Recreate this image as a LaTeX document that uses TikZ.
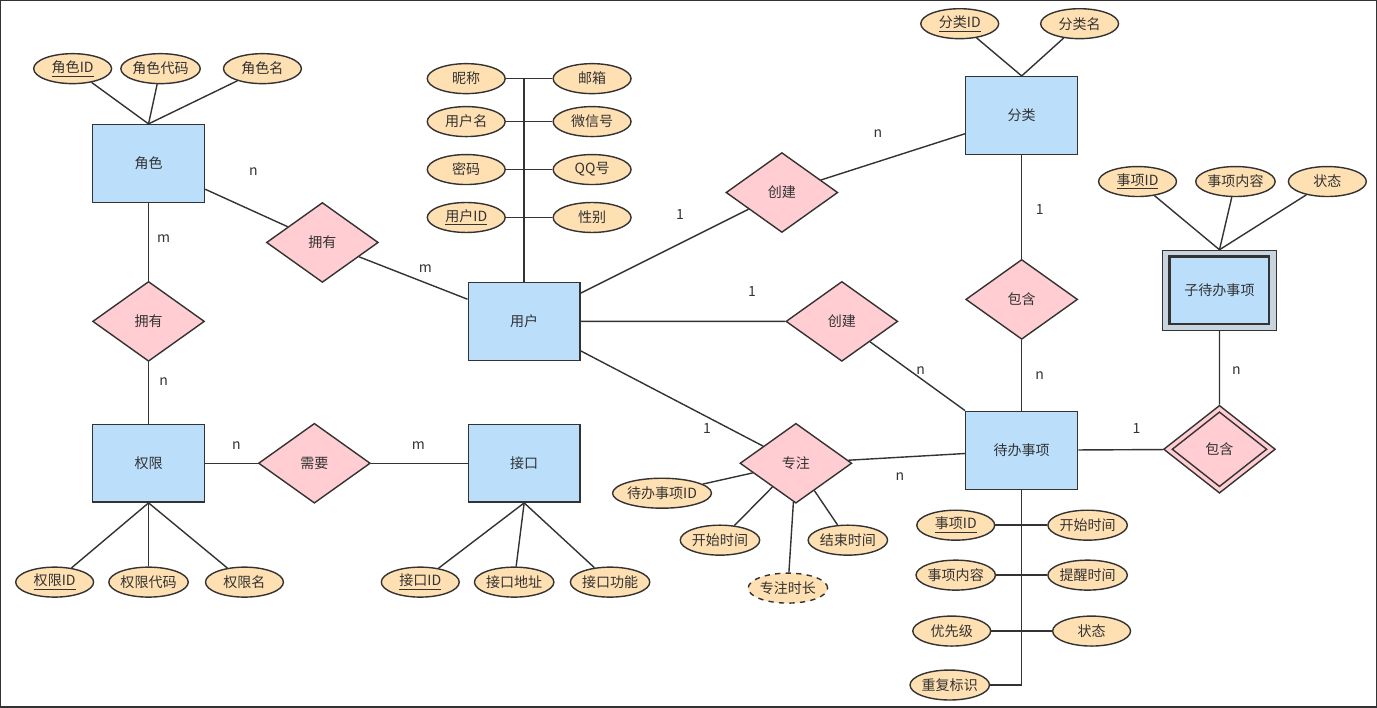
\documentclass[tikz,border=0pt]{standalone}
\usepackage{fontspec}
\setmainfont{Noto Sans CJK SC}
\usetikzlibrary{shapes.geometric}
\definecolor{ent}{HTML}{BBDEFB}
\definecolor{rel}{HTML}{FFCDD2}
\definecolor{att}{HTML}{FFE0B2}
\definecolor{ln}{HTML}{333333}
\begin{document}
\begin{tikzpicture}[x=0.02cm,y=-0.02cm,font=\fontsize{8}{9}\selectfont,text=ln,
 every path/.style={draw=ln,line width=0.8pt},
 ent/.style={draw=ln,fill=ent,minimum width=2.24cm,minimum height=1.56cm,inner sep=0pt},
 rel/.style={diamond,draw=ln,fill=rel,minimum width=2.24cm,minimum height=1.6cm,aspect=1.4,inner sep=0pt},
 att/.style={ellipse,draw=ln,fill=att,minimum width=1.56cm,minimum height=0.6cm,inner sep=0pt},
 lab/.style={draw=none,font=\fontsize{8}{9}\selectfont}]
\useasboundingbox (0,0) rectangle (1377,707);
% entities
\node[ent] (js) at (148,163) {角色};
\node[ent] (yh) at (524,321) {用户};
\node[ent] (fl) at (1022,115) {分类};
\node[ent] (qx) at (148,463) {权限};
\node[ent] (jk) at (524,463) {接口};
\node[ent] (db) at (1022,450) {待办事项};
\node[draw=ln,fill=ent!60!gray!60,minimum width=2.28cm,minimum height=1.6cm] (zo) at (1220,290) {};
\node[draw=ln,fill=ent,line width=1.2pt,minimum width=2cm,minimum height=1.36cm] (zd) at (1220,290) {子待办事项};
% relations
\node[rel] (r1) at (322,242) {拥有};
\node[rel] (r2) at (148,321) {拥有};
\node[rel] (r3) at (314,463) {需要};
\node[rel] (r4) at (782,192) {创建};
\node[rel] (r5) at (842,321) {创建};
\node[rel] (r6) at (1022,299) {包含};
\node[rel] (r7) at (796,463) {专注};
\node[rel,minimum height=1.76cm,aspect=1.27] (r8o) at (1220,449) {};
\node[rel,minimum width=1.9cm,minimum height=1.5cm,aspect=1.27] (r8) at (1220,449) {包含};
% connectors
\draw (js) -- (r1) -- (yh);
\draw (js) -- (r2) -- (qx);
\draw (qx) -- (r3) -- (jk);
\draw (yh) -- (r4) -- (fl);
\draw (yh) -- (r5) -- (db.north west);
\draw (fl) -- (r6) -- (db);
\draw (yh) -- (r7) -- (db);
\draw (db) -- (r8o) -- (zo);
% labels
\node[lab] at (253,171) {n};
\node[lab] at (425,268) {m};
\node[lab] at (163,238) {m};
\node[lab] at (163,381) {n};
\node[lab] at (236,445) {n};
\node[lab] at (418,445) {m};
\node[lab] at (878,133) {n};
\node[lab] at (680,214) {1};
\node[lab] at (1040,209) {1};
\node[lab] at (1040,375) {n};
\node[lab] at (752,291) {1};
\node[lab] at (921,370) {n};
\node[lab] at (707,428) {1};
\node[lab] at (900,476) {n};
\node[lab] at (1137,428) {1};
\node[lab] at (1237,370) {n};
% 角色 attributes
\node[att] (a1) at (72,68) {\underline{角色ID}};
\node[att] (a2) at (160,68) {角色代码};
\node[att] (a3) at (262,68) {角色名};
\foreach \a in {a1,a2,a3} \draw (\a) -- (js.north);
% 用户 attributes
\coordinate (ut) at (524,78);
\draw (ut) -- (yh.north);
\foreach \n/\t/\y in {u1/昵称/78,u2/用户名/121,u3/密码/169,u4/\underline{用户ID}/217}{
 \node[att] (\n) at (466,\y) {\t}; \draw (\n) -- (524,\y);}
\foreach \n/\t/\y in {v1/邮箱/78,v2/微信号/121,v3/QQ号/169,v4/性别/217}{
 \node[att] (\n) at (592,\y) {\t}; \draw (\n) -- (524,\y);}
% 分类 attributes
\node[att] (f1) at (960,23) {\underline{分类ID}};
\node[att] (f2) at (1080,23) {分类名};
\draw (f1) -- (fl.north) -- (f2);
% 子待办 attributes
\node[att] (z1) at (1138,181) {\underline{事项ID}};
\node[att] (z2) at (1236,181) {事项内容};
\node[att] (z3) at (1328,181) {状态};
\foreach \a in {z1,z2,z3} \draw (\a) -- (zo.north);
% 权限 attributes
\node[att] (q1) at (54,582) {\underline{权限ID}};
\node[att] (q2) at (148,582) {权限代码};
\node[att] (q3) at (244,582) {权限名};
\foreach \a in {q1,q2,q3} \draw (\a) -- (qx.south);
% 接口 attributes
\node[att] (k1) at (420,582) {\underline{接口ID}};
\node[att] (k2) at (514,582) {接口地址};
\node[att] (k3) at (610,582) {接口功能};
\foreach \a in {k1,k2,k3} \draw (\a) -- (jk.south);
% 专注 attributes
\node[att] (p1) at (662,493) {待办事项ID};
\node[att] (p2) at (720,540) {开始时间};
\node[att] (p3) at (848,540) {结束时间};
\node[att,dashed] (p4) at (788,588) {专注时长};
\foreach \a in {p1,p2,p3,p4} \draw (\a) -- (r7);
% 待办事项 attributes
\coordinate (dbb) at (1022,685);
\draw (db.south) -- (dbb);
\foreach \n/\t/\x/\y in {d1/\underline{事项ID}/956/525,d2/事项内容/956/575,d3/优先级/952/631,d5/开始时间/1088/525,d6/提醒时间/1088/575,d7/状态/1092/631}{
 \node[att] (\n) at (\x,\y) {\t}; \draw (\n) -- (1022,\y);}
\node[att] (d4) at (950,685) {重复标识};
\draw (d4) -- (dbb);
\end{tikzpicture}
\end{document}
